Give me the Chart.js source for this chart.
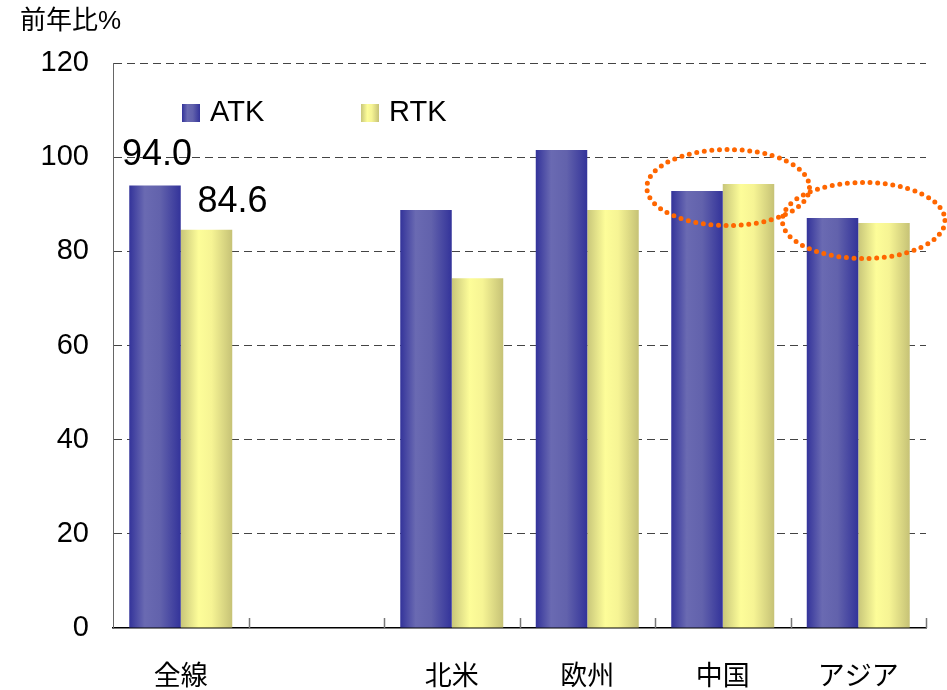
<!DOCTYPE html>
<html>
<head>
<meta charset="utf-8">
<script src="https://cdn.jsdelivr.net/npm/chart.js@4.4.0/dist/chart.umd.min.js"></script>
<style>
  html, body { margin: 0; padding: 0; background: #fff; }
  #wrap { width: 947px; height: 690px; }
</style>
</head>
<body>
<div id="wrap"><canvas id="myChart"></canvas></div>
<script>
const labels = ['全線', '', '北米', '欧州', '中国', 'アジア'];
const atkValues = [94.0, null, 88.8, 101.5, 92.8, 87.1];
const rtkValues = [84.6, null, 74.3, 88.8, 94.3, 86.0];
const yTickValues = [0, 20, 40, 60, 80, 100, 120];
const axisTitle = '前年比%';
const labelledCategory = '全線';
const circledCategories = ['中国', 'アジア'];

const FONT = "'Liberation Sans', Arial, 'Noto Sans CJK JP', sans-serif";
const CAT_PCT = 0.76;

const atkStops = [[0, '#33339a'], [0.3, '#6a6ab2'], [0.6, '#6262ac'], [1, '#33339a']];
const rtkStops = [[0, '#c8c67a'], [0.35, '#fdfd99'], [0.6, '#f6f494'], [1, '#c6c276']];

// horizontal gradient across one bar, worked out from the x scale
function barFill(stops, dsIndex) {
    return (context) => {
        const chart = context.chart;
        const x = chart.scales.x;
        if (!x || !chart.chartArea) return stops[1][1];
        const catW = x.width / labels.length;
        const groupW = catW * CAT_PCT;
        const barW = groupW / 2;
        const idx = context.dataIndex === undefined ? 0 : context.dataIndex;
        const left = x.getPixelForValue(idx) - groupW / 2 + dsIndex * barW;
        const g = chart.ctx.createLinearGradient(left, 0, left + barW, 0);
        stops.forEach((s) => g.addColorStop(s[0], s[1]));
        return g;
    };
}

const decor = {
    id: 'decor',
    afterDraw: (chart) => {
        const ctx = chart.ctx;
        const x = chart.scales.x;
        const y = chart.scales.y;
        const area = chart.chartArea;
        const catW = x.width / labels.length;
        ctx.save();

        // axis title
        ctx.fillStyle = '#000';
        ctx.font = '26px ' + FONT;
        ctx.textAlign = 'left';
        ctx.textBaseline = 'middle';
        ctx.fillText(axisTitle, 20, 22);

        // small tick marks on the category axis, pointing up
        ctx.strokeStyle = '#777';
        ctx.lineWidth = 1.5;
        for (let i = 1; i <= labels.length; i++) {
            const px = Math.round(area.left + i * catW) + 0.5;
            ctx.beginPath();
            ctx.moveTo(px, area.bottom);
            ctx.lineTo(px, area.bottom - 10);
            ctx.stroke();
        }

        // value labels on the first group
        const li = labels.indexOf(labelledCategory);
        ctx.font = '36px ' + FONT;
        ctx.textAlign = 'center';
        ctx.textBaseline = 'middle';
        const offsets = [[2, 30], [26, 28]];
        chart.data.datasets.forEach((ds, i) => {
            const bar = chart.getDatasetMeta(i).data[li];
            ctx.fillText(ds.data[li].toFixed(1), bar.x + offsets[i][0], bar.y - offsets[i][1]);
        });

        // legend inside the plot
        ctx.font = '29px ' + FONT;
        ctx.textAlign = 'left';
        chart.data.datasets.forEach((ds, i) => {
            const lx = area.left + 69 + i * 179;
            const ly = area.top + 41;
            const g = ctx.createLinearGradient(lx, 0, lx + 18, 0);
            ds.stops.forEach((s) => g.addColorStop(s[0], s[1]));
            ctx.fillStyle = g;
            ctx.fillRect(lx, ly, 18, 18);
            ctx.fillStyle = '#000';
            ctx.fillText(ds.label, lx + 28, ly + 9);
        });

        // orange dotted ellipses
        ctx.strokeStyle = '#ff6600';
        ctx.lineWidth = 5;
        ctx.lineCap = 'round';
        ctx.setLineDash([0, 7.6]);
        circledCategories.forEach((name) => {
            const idx = labels.indexOf(name);
            const cx = x.getPixelForValue(idx) + catW * 0.04;
            const cy = y.getPixelForValue((atkValues[idx] + rtkValues[idx]) / 2);
            ctx.beginPath();
            ctx.ellipse(cx, cy, catW * 0.6, 38, 0, 0, Math.PI * 2);
            ctx.stroke();
        });
        ctx.restore();
    },
};

const data = {
    labels: labels,
    datasets: [
        {
            label: 'ATK',
            data: atkValues,
            stops: atkStops,
            backgroundColor: barFill(atkStops, 0),
            categoryPercentage: CAT_PCT,
            barPercentage: 1.0,
        },
        {
            label: 'RTK',
            data: rtkValues,
            stops: rtkStops,
            backgroundColor: barFill(rtkStops, 1),
            categoryPercentage: CAT_PCT,
            barPercentage: 1.0,
        },
    ],
};

const config = {
    type: 'bar',
    data: data,
    options: {
        responsive: true,
        maintainAspectRatio: false,
        animation: false,
        devicePixelRatio: 1,
        layout: {
            padding: { top: 63, right: 21, left: 0, bottom: 0 },
        },
        scales: {
            x: {
                grid: { display: false },
                border: { color: '#000', width: 1.5 },
                ticks: {
                    color: '#000',
                    font: { family: FONT, size: 27 },
                    padding: 25,
                    maxRotation: 0,
                    autoSkip: false,
                },
                afterFit: (scale) => {
                    scale.height = 62;
                },
            },
            y: {
                min: 0,
                max: 120,
                afterBuildTicks: (scale) => {
                    scale.ticks = yTickValues.map((v) => ({ value: v }));
                },
                grid: {
                    drawTicks: false,
                    lineWidth: 1,
                    color: (c) => (c.tick && c.tick.value === 0 ? 'rgba(0,0,0,0)' : '#444'),
                },
                border: { color: '#666', width: 1, dash: [8, 5] },
                ticks: {
                    color: '#000',
                    font: { family: FONT, size: 29 },
                    padding: 24,
                },
                afterFit: (scale) => {
                    scale.width = 113;
                },
            },
        },
        plugins: {
            legend: { display: false },
            tooltip: { enabled: false },
        },
    },
    plugins: [decor],
};

const myChart = new Chart(document.getElementById('myChart'), config);
</script>
</body>
</html>
